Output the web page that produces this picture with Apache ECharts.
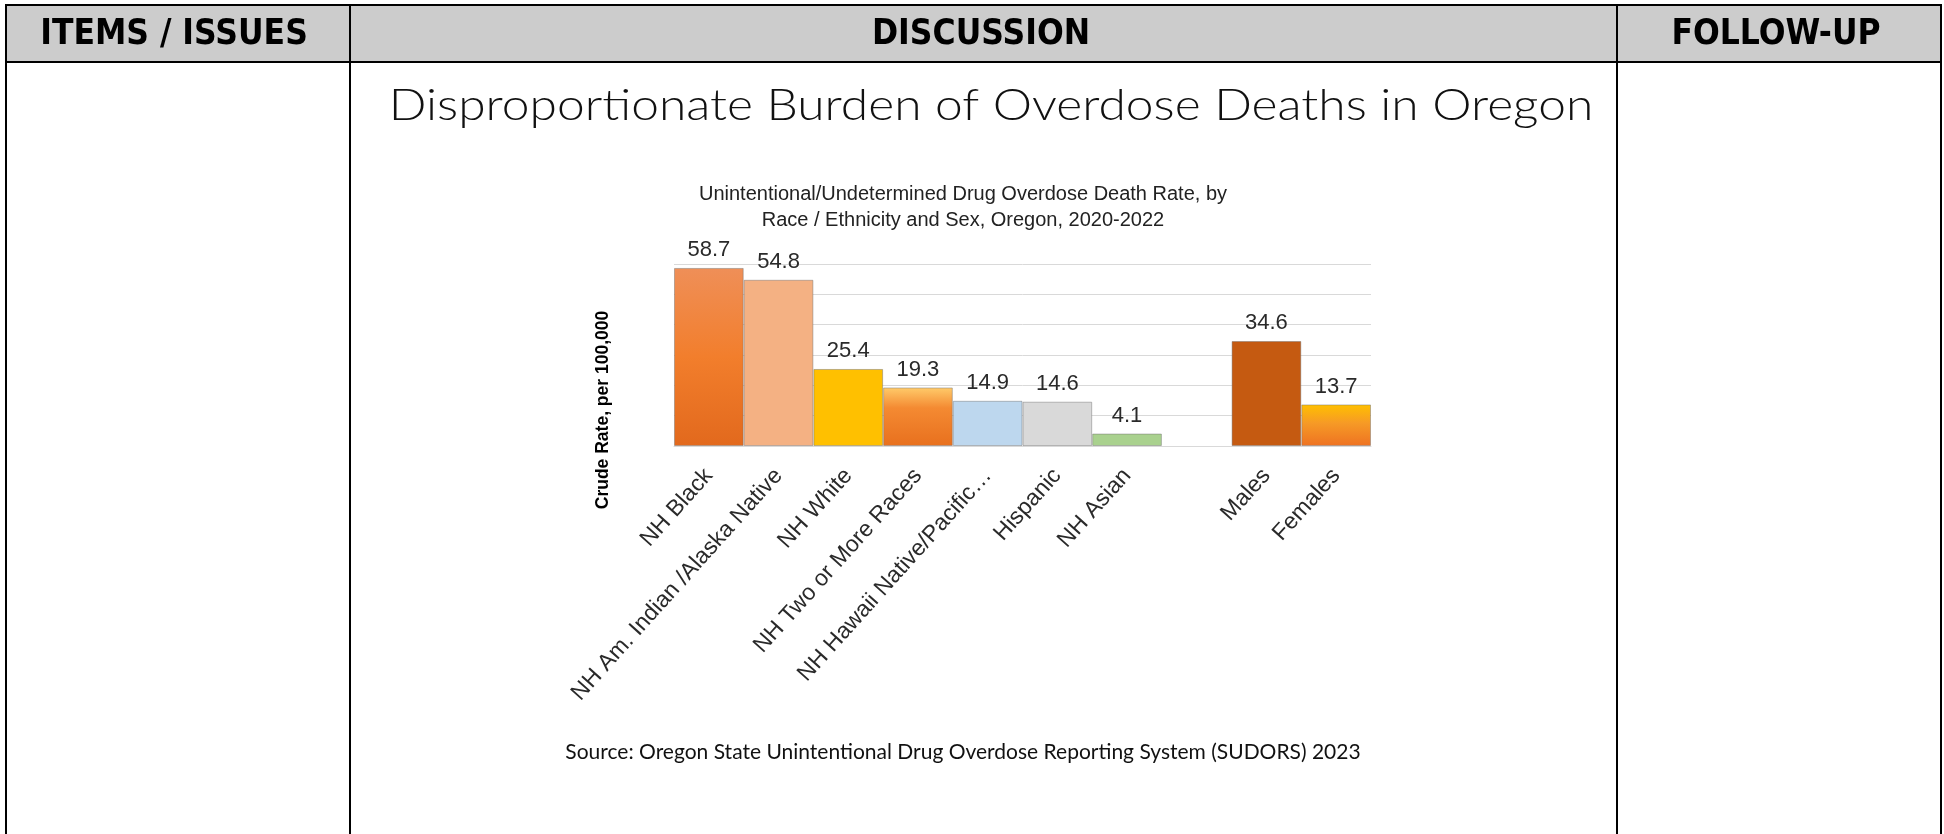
<!DOCTYPE html>
<html>
<head>
<meta charset="utf-8">
<script src="https://cdn.jsdelivr.net/npm/echarts@6/dist/echarts.min.js"></script>
<style>
html,body{margin:0;padding:0;background:#fff;}
#chart{width:1944px;height:834px;}
</style>
</head>
<body>
<div id="chart"></div>
<script>
// ---- data ----
const headerLabels = ['ITEMS / ISSUES', 'DISCUSSION', 'FOLLOW-UP'];
const pageTitle = 'Disproportionate Burden of Overdose Deaths in Oregon';
const chartTitle = 'Unintentional/Undetermined Drug Overdose Death Rate, by\nRace / Ethnicity and Sex, Oregon, 2020-2022';
const yAxisTitle = 'Crude Rate, per 100,000';
const sourceNote = 'Source: Oregon State Unintentional Drug Overdose Reporting System (SUDORS) 2023';
const categories = ['NH Black', 'NH Am. Indian /Alaska Native', 'NH White', 'NH Two or More Races',
  'NH Hawaii Native/Pacific…', 'Hispanic', 'NH Asian', '', 'Males', 'Females'];
const rates = [58.7, 54.8, 25.4, 19.3, 14.9, 14.6, 4.1, null, 34.6, 13.7];
const yMin = 0, yMax = 60, yStep = 10;

// ---- styles ----
function grad(stops) {
  return new echarts.graphic.LinearGradient(0, 0, 0, 1, stops.map(s => ({offset: s[0], color: s[1]})));
}
const barFills = [
  grad([[0, '#EF8F58'], [0.5, '#F27E2C'], [1, '#E2691D']]),
  '#F4B183',
  '#FFC000',
  grad([[0, '#FFCB6A'], [0.35, '#F48A32'], [1, '#E8701E']]),
  '#BDD7EE',
  '#D9D9D9',
  '#A9D18E',
  '#FFFFFF',
  '#C55A11',
  grad([[0, '#FFC000'], [0.45, '#F69A26'], [1, '#EE7222']])
];

const W = 1944, H = 834;
const lineC = '#000';
function rect(x, y, w, h, fill) {
  return {type: 'rect', shape: {x, y, width: w, height: h}, style: {fill}, silent: true};
}
function headerText(t, x) {
  return {type: 'text', silent: true, x: x, y: 35, scaleX: 0.9,
    style: {text: t, x: 0, y: 0, align: 'center', verticalAlign: 'middle',
      font: 'bold 35px "DejaVu Sans", Verdana, sans-serif', fill: '#000'}};
}

const chart = echarts.init(document.getElementById('chart'), null, {renderer: 'canvas'});
chart.setOption({
  animation: false,
  backgroundColor: '#fff',
  grid: {left: 674, right: W - 1371, top: 264, bottom: H - 446, containLabel: false, outerBoundsMode: 'none'},
  xAxis: {
    type: 'category',
    data: categories,
    axisTick: {show: false},
    axisLine: {lineStyle: {color: '#D9D9D9', width: 1}},
    axisLabel: {
      interval: 0, rotate: 48, margin: 26,
      fontFamily: 'Liberation Sans, Arial, sans-serif', fontSize: 23, color: '#2a2a2a'
    }
  },
  yAxis: {
    type: 'value', min: yMin, max: yMax, interval: yStep,
    axisLabel: {show: false}, axisLine: {show: false}, axisTick: {show: false},
    splitLine: {lineStyle: {color: '#D9D9D9', width: 1}}
  },
  series: [{
    type: 'bar',
    barCategoryGap: '0%',
    data: rates.map((v, i) => ({
      value: v,
      itemStyle: {color: barFills[i], borderColor: 'rgba(110,110,110,0.45)', borderWidth: 1}
    })),
    label: {
      show: true, position: 'top', distance: 7,
      fontFamily: 'Liberation Sans, Arial, sans-serif', fontSize: 22, color: '#2a2a2a',
      formatter: p => (p.value == null ? '' : p.value.toFixed(1))
    }
  }],
  graphic: [
    // header fill
    rect(7, 6, 1933, 55, '#CCCCCC'),
    // borders
    rect(5, 4, 1937, 2, lineC),
    rect(5, 61, 1937, 2, lineC),
    rect(5, 4, 2, H - 4, lineC),
    rect(1940, 4, 2, H - 4, lineC),
    rect(349, 4, 2, H - 4, lineC),
    rect(1616, 4, 2, H - 4, lineC),
    // header texts
    headerText(headerLabels[0], 174),
    headerText(headerLabels[1], 981),
    headerText(headerLabels[2], 1776),
    // page title
    {type: 'text', silent: true, x: 991, y: 106, scaleX: 1.13,
      style: {text: pageTitle, x: 0, y: 0, align: 'center', verticalAlign: 'middle',
      font: '300 44px Lato, "Open Sans", sans-serif', fill: '#111'}},
    // chart title
    {type: 'text', silent: true, style: {text: chartTitle, x: 963, y: 181, align: 'center', verticalAlign: 'top',
      lineHeight: 26, font: '20px "Liberation Sans", Arial, sans-serif', fill: '#222'}},
    // y axis title
    {type: 'text', silent: true, x: 603, y: 410, rotation: Math.PI / 2,
      style: {text: yAxisTitle, x: 0, y: 0, align: 'center', verticalAlign: 'middle',
      font: 'bold 17.5px "Liberation Sans", Arial, sans-serif', fill: '#000'}},
    // source
    {type: 'text', silent: true, style: {text: sourceNote, x: 963, y: 752, align: 'center', verticalAlign: 'middle',
      font: '21px Lato, "Open Sans", sans-serif', fill: '#111'}}
  ]
});
</script>
</body>
</html>
